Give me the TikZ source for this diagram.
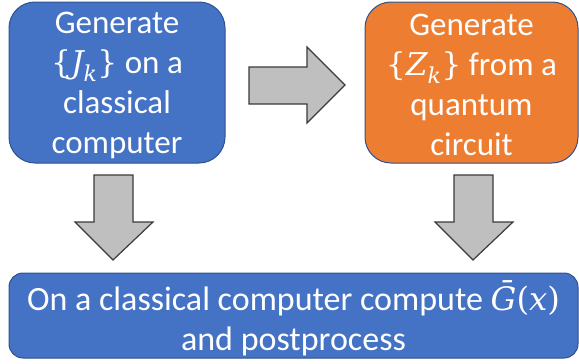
\documentclass[tikz,border=0pt]{standalone}
\usepackage{amsmath}
\usepackage{fontspec}
\setmainfont{Carlito}
% serif face for the formula symbols
\newfontfamily\formulafont{DejaVu Serif}[Scale=0.95]
\newcommand{\fup}[1]{\text{\formulafont #1}}
\newcommand{\fit}[1]{\text{\formulafont\itshape #1}}
\definecolor{boxblue}{HTML}{4472C4}
\definecolor{boxorange}{HTML}{ED7D31}
\definecolor{edgeblue}{HTML}{2F528F}
\definecolor{arrowgray}{HTML}{BFBFBF}
\definecolor{arrowedge}{HTML}{3A3A3A}
\tikzset{
  stepbox/.style={draw=edgeblue, line width=1pt, inner sep=0pt},
  steptext/.style={inner sep=0pt, align=center, text=white,
    font=\fontsize{33}{40}\selectfont},
  fatarrow/.style={draw=arrowedge, fill=arrowgray, line width=1.2pt, line join=miter}
}
\begin{document}
\begin{tikzpicture}[x=1pt, y=-1pt]
  \useasboundingbox (0,0) rectangle (579,364);

  % the three process boxes
  \node[stepbox, fill=boxblue, rounded corners=26pt,
        minimum width=216pt, minimum height=161pt] (classical) at (117,82.5) {};
  \node[stepbox, fill=boxorange, rounded corners=26pt,
        minimum width=213pt, minimum height=161pt] (quantum) at (471.5,82.5) {};
  \node[stepbox, fill=boxblue, rounded corners=14pt,
        minimum width=569pt, minimum height=85pt] (post) at (293.5,315.5) {};

  % their captions
  \node[steptext] (classicaltext) at ([yshift=-2.5pt]classical.center)
    {Generate\\$\fup{\{}\fit{J}_{\fit{k}}\fup{\}}$ on a\\classical\\computer};
  \node[steptext] (quantumtext) at ([yshift=-2.5pt]quantum.center)
    {Generate\\$\fup{\{}\fit{Z}_{\fit{k}}\fup{\}}$ from a\\quantum\\circuit};
  \node[steptext, font=\fontsize{34}{40}\selectfont] (posttext) at ([yshift=-3pt]post.center)
    {On a classical computer compute $\fit{G^^^^0304}\fup{(}\fit{x}\fup{)}$\\and postprocess};

  % block arrow between the two generators
  \draw[fatarrow] (249,67) -- (307,67) -- (307,47) -- (345,85) -- (307,123)
    -- (307,104) -- (249,104) -- cycle;

  % block arrows down to the post-processing step
  \draw[fatarrow] (94,175) -- (133,175) -- (133,222) -- (153,222) -- (113,260)
    -- (75,222) -- (94,222) -- cycle;
  \draw[fatarrow] (454,175) -- (493,175) -- (493,222) -- (513,222) -- (473,260)
    -- (435,222) -- (454,222) -- cycle;
\end{tikzpicture}
\end{document}
